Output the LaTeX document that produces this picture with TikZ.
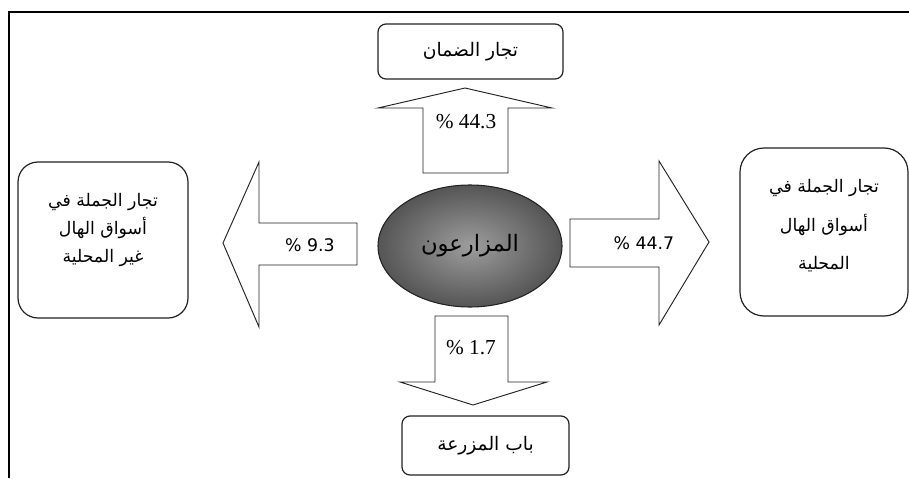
\documentclass[tikz,border=0pt]{standalone}
\usepackage{fontspec}
\setmainfont{Liberation Serif}
\newfontfamily\arabicfont[Script=Arabic]{DejaVu Sans}
\newfontfamily\pctsans{DejaVu Sans}
\TeXXeTstate=1
\usetikzlibrary{shapes.geometric}
\definecolor{clrline}{HTML}{222222}
\definecolor{clrfarmer}{HTML}{8C8C8C}
\definecolor{clrfarmeredge}{HTML}{555555}

\begin{document}
\begin{tikzpicture}[
    x=0.75pt, y=-0.75pt,
    every node/.style={inner sep=0pt},
    outlet/.style={draw=clrline, line width=0.9pt, align=center,
                   font=\arabicfont\fontsize{14}{21}\selectfont},
    sidetext/.style={align=center, font=\arabicfont\fontsize{13}{21}\selectfont},
    blockarrow/.style={draw=clrline, line width=0.7pt, fill=white},
    pctserif/.style={font=\fontsize{16}{18}\selectfont},
    pctsans/.style={font=\pctsans\fontsize{13}{15}\selectfont},
]
\useasboundingbox (0,0) rectangle (909,478);
% frame of the scanned page
\draw[line width=2.2pt] (9,478) -- (9,12) -- (909,12);

% centre
\node[ellipse, draw=clrline, line width=0.8pt, inner color=clrfarmer!85,
      outer color=clrfarmeredge, minimum width=138pt, minimum height=91.5pt,
      font=\arabicfont\fontsize{17}{20}\selectfont] (farmers) at (470,246) {\beginR المزارعون\endR};

% outlets
\node[outlet, rounded corners=6pt, minimum width=138.75pt, minimum height=41.25pt] (guarantee) at (470.5,51.5) {\beginR تجار الضمان\endR};
\node[outlet, rounded corners=6pt, minimum width=125.25pt, minimum height=44.25pt] (farmgate) at (485.5,445.5) {\beginR باب المزرعة\endR};
\node[outlet, rounded corners=15pt, minimum width=127.5pt, minimum height=117pt] (nonlocal) at (103,240) {};
\node[outlet, rounded corners=18pt, minimum width=126pt, minimum height=126pt] (local) at (824,232) {};
\node[sidetext] (nonlocal_t) at ([yshift=7.5pt]nonlocal.center)
    {\beginR تجار الجملة في\endR\\\beginR أسواق الهال\endR\\\beginR غير المحلية\endR};
\node[sidetext, font=\arabicfont\fontsize{13}{29}\selectfont] (local_t) at ([yshift=4.5pt]local.center)
    {\beginR تجار الجملة في\endR\\\beginR أسواق الهال\endR\\\beginR المحلية\endR};

% block arrows
\draw[blockarrow] (423,173) -- (423,108) -- (378,108) -- (465,88) -- (552,108) -- (508,108) -- (508,173) -- cycle;
\draw[blockarrow] (435,316) -- (435,382) -- (400,382) -- (473,405) -- (547,382) -- (508,382) -- (508,316) -- cycle;
\draw[blockarrow] (357,223) -- (259,223) -- (259,162) -- (223,243) -- (259,327) -- (259,265) -- (357,265) -- cycle;
\draw[blockarrow] (570,219) -- (659,219) -- (659,161) -- (709,242) -- (659,325) -- (659,267) -- (570,267) -- cycle;

% shares
\node[pctserif] (p_guarantee) at (466,122) {\% 44.3};
\node[pctserif] (p_farmgate) at (471,348) {\% 1.7};
\node[pctsans] (p_nonlocal) at (310,245) {\% 9.3};
\node[pctsans] (p_local) at (644,243) {\% 44.7};
\end{tikzpicture}
\end{document}
